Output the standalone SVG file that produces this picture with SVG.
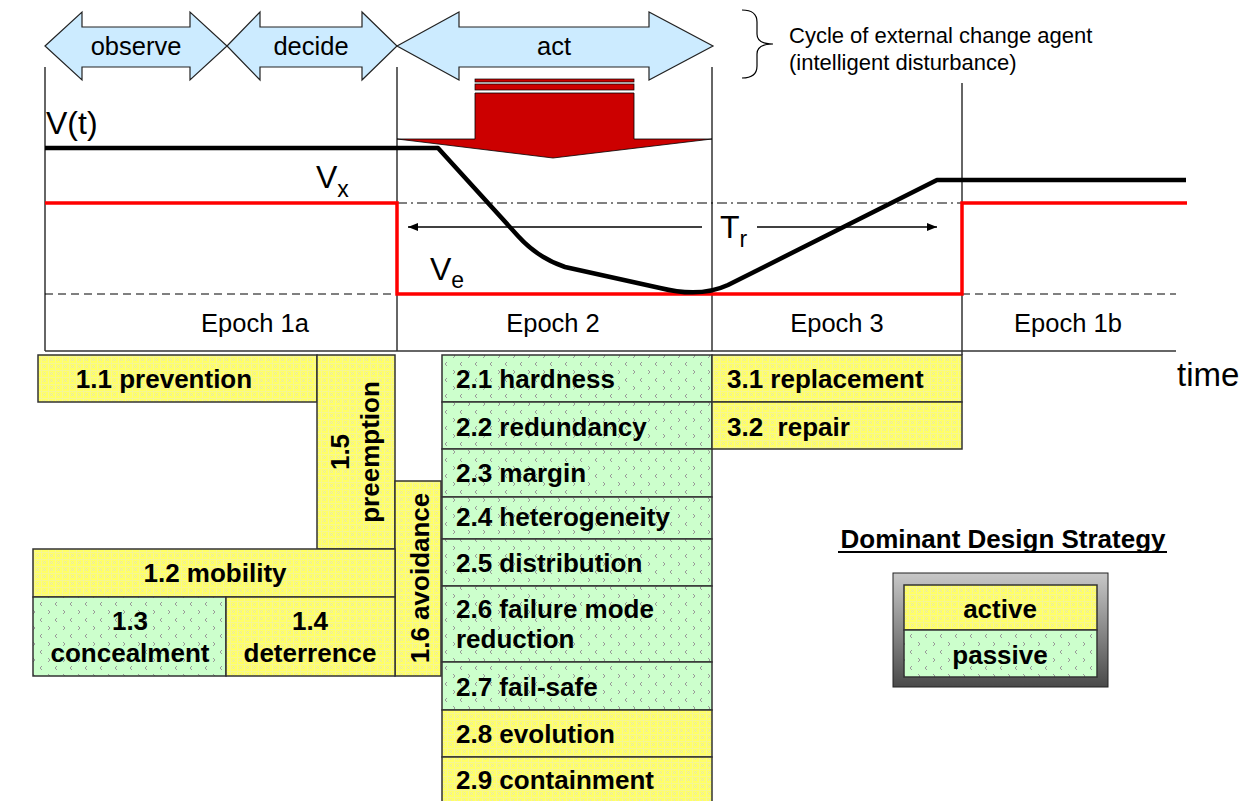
<svg xmlns="http://www.w3.org/2000/svg" width="1249" height="801" viewBox="0 0 1249 801">
<style>
.lbl{font-family:"Liberation Sans",Arial,sans-serif;fill:#000}
.reg{font-size:25.5px}
.box{font-family:"Liberation Sans",Arial,sans-serif;font-weight:bold;font-size:26px;fill:#000}
.act{fill:url(#pAct);stroke:#333;stroke-width:1.5}
.pas{fill:url(#pPas);stroke:#333;stroke-width:1.5}
.ooda{fill:#CCEBFF;stroke:#222;stroke-width:1.2}
.vl{stroke:#333;stroke-width:1.5;fill:none}
</style>
<defs>
<pattern id="pAct" width="7" height="7" patternUnits="userSpaceOnUse">
<rect width="7" height="7" fill="#FFFF66"/>
<path d="M1 1 L4 4 M4 1 L1 4" stroke="#E6E6B8" stroke-width="0.9"/>
<path d="M0 6.5 H7 M6.5 0 V7" stroke="#F4F4A0" stroke-width="0.8"/>
</pattern>
<pattern id="pPas" width="15" height="16" patternUnits="userSpaceOnUse">
<rect width="15" height="16" fill="#CCFFCC"/>
<path d="M3 2 L5 4 L3 6" stroke="#999999" stroke-width="1" fill="none"/>
<path d="M12 10 L10 12 L12 14" stroke="#999999" stroke-width="1" fill="none"/>
</pattern>
<linearGradient id="gLeg" x1="0" y1="0" x2="0" y2="1">
<stop offset="0" stop-color="#C8C8C8"/>
<stop offset="1" stop-color="#4A4A4A"/>
</linearGradient>
<marker id="ah" viewBox="0 0 10 10" refX="10" refY="5" markerWidth="10" markerHeight="10" markerUnits="userSpaceOnUse" orient="auto">
<path d="M0 1 L10 5 L0 9 Z" fill="#000"/>
</marker>
</defs>

<g id="ooda">
<g id="observe">
<polygon class="ooda" points="45,46 82,12 82,27 190,27 190,12 227,46 190,80 190,67 82,67 82,80"/>
<text class="lbl reg" x="136" y="55" text-anchor="middle">observe</text>
</g>
<g id="decide">
<polygon class="ooda" points="227,46 260,12 260,27 362,27 362,12 397,46 362,80 362,67 260,67 260,80"/>
<text class="lbl reg" x="311" y="55" text-anchor="middle">decide</text>
</g>
<g id="act">
<polygon class="ooda" points="397,46 459,12 459,27 649,27 649,12 713,46 649,80 649,67 459,67 459,80"/>
<text class="lbl reg" x="554" y="55" text-anchor="middle">act</text>
</g>
</g>

<g id="cycle-note">
<path d="M742 10 Q757 10 757 22 L757 34 Q757 44 773 44 Q757 44 757 54 L757 66 Q757 78 742 78" fill="none" stroke="#000" stroke-width="1.2"/>
<text class="lbl" font-size="22" x="789" y="43">Cycle of external change agent</text>
<text class="lbl" font-size="22" x="789" y="70">(intelligent disturbance)</text>
</g>

<g id="frame">
<line class="vl" x1="45" y1="67" x2="45" y2="351"/>
<line class="vl" x1="397" y1="67" x2="397" y2="351"/>
<line class="vl" x1="712" y1="67" x2="712" y2="351"/>
<line class="vl" x1="962" y1="83" x2="962" y2="355"/>
<line class="vl" x1="45" y1="351" x2="1176" y2="351"/>
<line x1="397" y1="203" x2="962" y2="203" stroke="#000" stroke-width="1" stroke-dasharray="10 4 2 4"/>
<line x1="45" y1="294" x2="397" y2="294" stroke="#000" stroke-width="1" stroke-dasharray="8 5"/>
<line x1="962" y1="294" x2="1176" y2="294" stroke="#000" stroke-width="1" stroke-dasharray="8 5"/>
</g>

<g id="disturbance-arrow">
<rect x="475" y="79" width="159" height="3" fill="#CC0000" stroke="#000" stroke-width="0.7"/>
<rect x="475" y="84" width="159" height="6" fill="#CC0000" stroke="#000" stroke-width="0.7"/>
<polygon points="475,93 634,93 634,139 712,139 553,158 397,139 475,139" fill="#CC0000" stroke="#000" stroke-width="0.8"/>
</g>

<g id="connectors">
<polyline points="45,203 397,203 397,294 962,294 962,203 1187,203" fill="none" stroke="#FF0000" stroke-width="3.5"/>
<path d="M45 148 L438 148 L518 236 Q538 258 565 267 L660 288 Q700 298 728 285 L937 180 L1186 180" fill="none" stroke="#000" stroke-width="4.5" stroke-linejoin="round"/>
<line x1="702" y1="227" x2="408" y2="227" stroke="#000" stroke-width="1.3" marker-end="url(#ah)"/>
<line x1="757" y1="227" x2="937" y2="227" stroke="#000" stroke-width="1.3" marker-end="url(#ah)"/>
</g>

<g id="labels">
<text class="lbl" font-size="32" x="46" y="134">V(t)</text>
<text class="lbl" font-size="32" x="316" y="188">V<tspan font-size="23" dy="9">x</tspan></text>
<text class="lbl" font-size="32" x="430" y="280">V<tspan font-size="23" dy="8">e</tspan></text>
<text class="lbl" font-size="32" x="720" y="238">T<tspan font-size="23" dy="9">r</tspan></text>
<text class="lbl reg" x="255" y="332" text-anchor="middle">Epoch 1a</text>
<text class="lbl reg" x="553" y="332" text-anchor="middle">Epoch 2</text>
<text class="lbl reg" x="837" y="332" text-anchor="middle">Epoch 3</text>
<text class="lbl reg" x="1068" y="332" text-anchor="middle">Epoch 1b</text>
<text class="lbl" font-size="33" x="1177" y="386">time</text>
</g>

<g id="n1-1"><rect class="act" x="38" y="355" width="279" height="47"/><text class="box" x="164" y="388" text-anchor="middle">1.1 prevention</text></g>
<g id="n1-5"><rect class="act" x="317" y="355" width="78" height="194"/><text class="box" transform="translate(349,452) rotate(-90)" text-anchor="middle">1.5</text><text class="box" transform="translate(379,452) rotate(-90)" text-anchor="middle">preemption</text></g>
<g id="n1-6"><rect class="act" x="395" y="481" width="46" height="195"/><text class="box" transform="translate(429,578) rotate(-90)" text-anchor="middle">1.6 avoidance</text></g>
<g id="n1-2"><rect class="act" x="33" y="549" width="362" height="48"/><text class="box" x="215" y="582" text-anchor="middle">1.2 mobility</text></g>
<g id="n1-3"><rect class="pas" x="33" y="597" width="193" height="79"/><text class="box" x="130" y="630" text-anchor="middle">1.3</text><text class="box" x="130" y="662" text-anchor="middle">concealment</text></g>
<g id="n1-4"><rect class="act" x="226" y="597" width="169" height="79"/><text class="box" x="310" y="630" text-anchor="middle">1.4</text><text class="box" x="310" y="662" text-anchor="middle">deterrence</text></g>

<g id="n2-1"><rect class="pas" x="442" y="355" width="270" height="47"/><text class="box" x="456" y="388">2.1 hardness</text></g>
<g id="n2-2"><rect class="pas" x="442" y="402" width="270" height="47"/><text class="box" x="456" y="436">2.2 redundancy</text></g>
<g id="n2-3"><rect class="pas" x="442" y="449" width="270" height="48"/><text class="box" x="456" y="482">2.3 margin</text></g>
<g id="n2-4"><rect class="pas" x="442" y="497" width="270" height="42"/><text class="box" x="456" y="526">2.4 heterogeneity</text></g>
<g id="n2-5"><rect class="pas" x="442" y="539" width="270" height="47"/><text class="box" x="456" y="572">2.5 distribution</text></g>
<g id="n2-6"><rect class="pas" x="442" y="586" width="270" height="76"/><text class="box" x="456" y="618">2.6 failure mode</text><text class="box" x="456" y="648">reduction</text></g>
<g id="n2-7"><rect class="pas" x="442" y="662" width="270" height="48"/><text class="box" x="456" y="696">2.7 fail-safe</text></g>
<g id="n2-8"><rect class="act" x="442" y="710" width="270" height="47"/><text class="box" x="456" y="743">2.8 evolution</text></g>
<g id="n2-9"><rect class="act" x="442" y="757" width="270" height="46"/><text class="box" x="456" y="789">2.9 containment</text></g>

<g id="n3-1"><rect class="act" x="712" y="355" width="250" height="47"/><text class="box" x="727" y="388">3.1 replacement</text></g>
<g id="n3-2"><rect class="act" x="712" y="402" width="250" height="47"/><text class="box" x="727" y="436" xml:space="preserve">3.2  repair</text></g>

<g id="legend">
<text class="box" x="1003" y="548" text-anchor="middle">Dominant Design Strategy</text>
<line x1="838" y1="552" x2="1167" y2="552" stroke="#000" stroke-width="2"/>
<rect x="893" y="573" width="215" height="114" fill="url(#gLeg)" stroke="#222" stroke-width="1"/>
<rect class="act" x="904" y="585" width="193" height="45"/>
<rect class="pas" x="904" y="630" width="193" height="47"/>
<text class="box" x="1000" y="618" text-anchor="middle">active</text>
<text class="box" x="1000" y="664" text-anchor="middle">passive</text>
</g>
</svg>
